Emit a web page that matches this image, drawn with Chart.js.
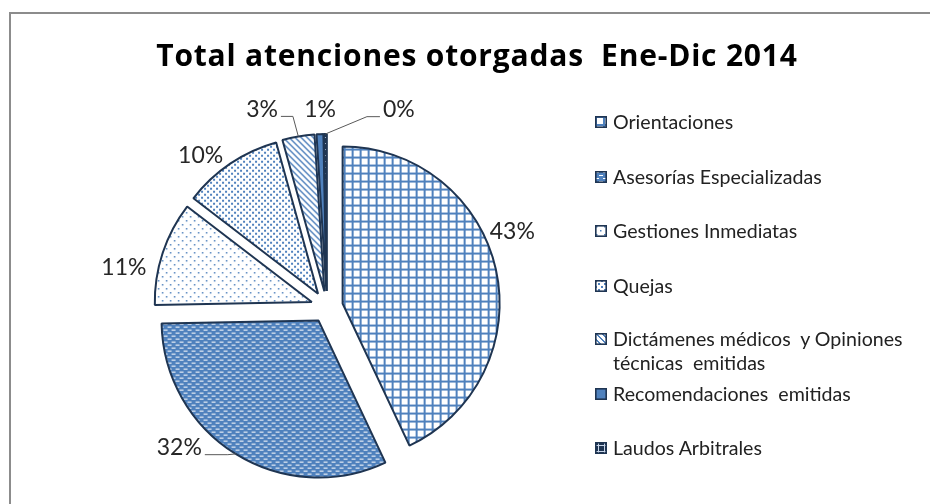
<!DOCTYPE html>
<html><head><meta charset="utf-8">
<script src="https://cdn.jsdelivr.net/npm/chart.js@4"></script>
<style>
html,body{margin:0;padding:0;background:#fff;overflow:hidden;}
#wrap{position:relative;width:930px;height:504px;overflow:hidden;font-family:Lato,"Open Sans",sans-serif;color:#222;}
#frame{position:absolute;left:9px;top:12px;width:1200px;height:800px;border-left:2px solid #8c8c8c;border-top:2px solid #8c8c8c;box-sizing:border-box;}
#title{position:absolute;left:24px;width:906px;top:40px;text-align:center;font-family:"Open Sans",sans-serif;font-weight:bold;font-size:30px;letter-spacing:0.8px;line-height:30px;color:#000;white-space:pre;}
#c{position:absolute;left:0;top:0;}
.li{position:absolute;left:595px;font-size:19.6px;line-height:24px;white-space:pre-wrap;width:330px;}
.li canvas{position:absolute;left:0;top:6px;}
.li span{display:block;margin-left:18px;width:310px;}
</style>
</head><body>
<div id="wrap">
  <div id="frame"></div>
  <canvas id="c" width="930" height="504"></canvas>
  <div id="title"></div>
  <div id="legend"></div>
</div>
<script>
// ---- data ----
const title = 'Total atenciones otorgadas  Ene-Dic 2014';
const categories = ['Orientaciones','Asesorías Especializadas','Gestiones Inmediatas','Quejas','Dictámenes médicos  y Opiniones\ntécnicas  emitidas','Recomendaciones  emitidas','Laudos Arbitrales'];
const shares = [43.0, 31.7, 10.7, 10.3, 3.3, 0.7, 0.3];

// ---- layout ----
const CX = 327, CY = 307, RADIUS = 157, EXPLODE = 16;
const labelAngle = [67.9, 226.4, 281.1, 320.1, 341.8, 358, 20];   // degrees from top, clockwise
const labelDist  = [200, 204, 207, 197, 208, 198, 210];
const leaderLen  = [0, 23, 0, 0, 12, 0, 13];
const legendY = [122, 177, 231, 286, 339, 394, 448];

const BLUE = '#4f81bd', NAVY = '#1f3552', WHITE = '#ffffff';
function tile(w, h, draw) {
  const c = document.createElement('canvas'); c.width = w; c.height = h;
  const x = c.getContext('2d'); draw(x, w, h); return c;
}
const tiles = [
  tile(8, 8, (x) => { x.fillStyle = WHITE; x.fillRect(0,0,8,8); x.fillStyle = BLUE; x.fillRect(0,0,8,2); x.fillRect(0,0,2,8); }),
  tile(8, 6, (x) => { x.fillStyle = BLUE; x.fillRect(0,0,8,6); x.fillStyle = WHITE; x.fillRect(0,1,4,1); x.fillRect(4,4,4,1); }),
  tile(8, 8, (x) => { x.fillStyle = WHITE; x.fillRect(0,0,8,8); x.fillStyle = BLUE; x.fillRect(1,1,1.5,1.5); x.fillRect(5,5,1.5,1.5); }),
  tile(6, 6, (x) => { x.fillStyle = WHITE; x.fillRect(0,0,6,6); x.fillStyle = BLUE; x.fillRect(0,0,2,2); x.fillRect(3,3,2,2); }),
  tile(6, 6, (x) => { x.fillStyle = WHITE; x.fillRect(0,0,6,6); x.fillStyle = BLUE; for (let i=0;i<6;i++){ x.fillRect(i,i,1,1); x.fillRect((i+1)%6,i,1,1);} }),
  tile(4, 4, (x) => { x.fillStyle = BLUE; x.fillRect(0,0,4,4); }),
  tile(6, 6, (x) => { x.fillStyle = NAVY; x.fillRect(0,0,6,6); x.fillStyle = '#c9d6ea'; x.fillRect(3,0,1,6); x.fillRect(0,3,6,1); })
];
const ctx = document.getElementById('c').getContext('2d');
const patterns = tiles.map(t => ctx.createPattern(t, 'repeat'));

document.getElementById('title').textContent = title;

// legend (HTML)
const leg = document.getElementById('legend');
categories.forEach((name, i) => {
  const d = document.createElement('div'); d.className = 'li'; d.style.top = (legendY[i] - 12) + 'px';
  const b = document.createElement('canvas'); b.width = 12; b.height = 12;
  const bx = b.getContext('2d');
  bx.fillStyle = bx.createPattern(tiles[i], 'repeat'); bx.fillRect(0,0,12,12);
  bx.strokeStyle = NAVY; bx.lineWidth = 1.6; bx.strokeRect(0.8,0.8,10.4,10.4);
  const s = document.createElement('span'); s.textContent = name;
  d.appendChild(b); d.appendChild(s); leg.appendChild(d);
});

const explodePlugin = {
  id: 'explode',
  beforeDatasetDraw(chart, args) {
    const c = chart.ctx;
    args.meta.data.forEach(arc => {
      const mid = (arc.startAngle + arc.endAngle) / 2;
      c.save();
      c.translate(Math.cos(mid) * EXPLODE, Math.sin(mid) * EXPLODE);
      arc.draw(c);
      c.restore();
    });
    return false;
  },
  afterDraw(chart) {
    const c = chart.ctx;
    const meta = chart.getDatasetMeta(0);
    const data = chart.data.datasets[0].data;
    const total = data.reduce((a, b) => a + b, 0);
    c.save();
    c.font = '23px Lato, sans-serif';
    c.fillStyle = '#262626';
    c.textAlign = 'center'; c.textBaseline = 'middle';
    meta.data.forEach((arc, i) => {
      const txt = Math.round(data[i] / total * 100) + '%';
      const th = labelAngle[i] * Math.PI / 180;
      const px = arc.x + labelDist[i] * Math.sin(th);
      const py = arc.y - labelDist[i] * Math.cos(th);
      c.fillText(txt, px, py);
      if (leaderLen[i] > 0) {
        const mid = (arc.startAngle + arc.endAngle) / 2;
        const ex = arc.x + (arc.outerRadius + EXPLODE) * Math.cos(mid);
        const ey = arc.y + (arc.outerRadius + EXPLODE) * Math.sin(mid);
        const hw = c.measureText(txt).width / 2 + 3;
        const dir = ex > px ? 1 : -1;
        const sx = px + dir * hw, sy = py + 7;
        c.beginPath();
        c.strokeStyle = '#595959'; c.lineWidth = 1;
        c.moveTo(sx, sy); c.lineTo(sx + dir * leaderLen[i], sy); c.lineTo(ex, ey);
        c.stroke();
      }
    });
    c.restore();
  }
};

new Chart(ctx, {
  type: 'pie',
  data: {
    labels: categories,
    datasets: [{
      data: shares,
      backgroundColor: patterns,
      borderColor: NAVY,
      borderWidth: 2,
      offset: 0,
      hoverOffset: 0,
      radius: RADIUS,
      clip: false
    }]
  },
  options: {
    responsive: false,
    devicePixelRatio: 1,
    animation: false,
    events: [],
    layout: { padding: { left: CX - 327, right: 930 - 2 * CX, top: 2 * CY - 504, bottom: 0 } },
    plugins: { legend: { display: false }, title: { display: false }, tooltip: { enabled: false } }
  },
  plugins: [explodePlugin]
});
</script>
</body></html>
